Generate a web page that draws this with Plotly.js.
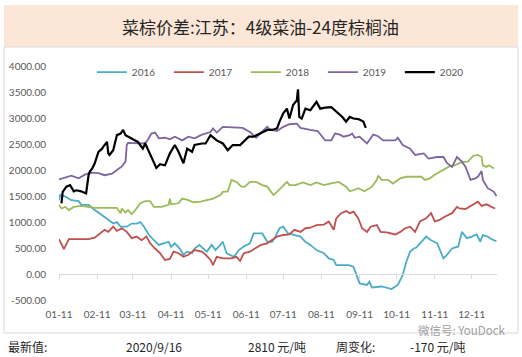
<!DOCTYPE html>
<html>
<head>
<meta charset="utf-8">
<script src="https://cdn.plot.ly/plotly-3.0.1.min.js"></script>
<style>html,body{margin:0;padding:0;background:#fff;}#chart{width:522px;height:357px;}</style>
</head>
<body>
<div id="chart"></div>
<script>
// ---- data (x = day of year, all years placed on a 2020 calendar) ----
const seriesNames = ['2016', '2017', '2018', '2019', '2020'];
const seriesColors = ['#4bacc6', '#c0504d', '#9bbb59', '#8064a2', '#000000'];

const day2016 = [11,12,16,21,27,29,35,40,46,51,55,58,61,66,70,74,77,80,84,88,92,96,100,102,105,109,112,115,119,121,125,128,131,135,138,142,144,147,153,157,161,166,169,176,180,184,186,190,193,197,203,207,211,215,220,226,230,234,236,242,246,250,253,255,261,263,265,273,281,284,286,290,293,296,299,301,305,309,313,318,323,326,330,335,338,342,346,350,353,355,359,362,366];
const val2016 = [1420,1520,1490,1420,1400,1330,1330,1230,1130,1040,970,1000,910,910,970,970,1000,910,750,650,560,590,620,520,590,490,370,430,400,490,560,490,430,560,460,560,620,400,330,460,530,590,780,780,620,620,690,880,910,780,750,720,620,560,460,400,300,270,170,170,170,140,-50,-180,-210,-150,-260,-240,-290,-240,-210,-20,240,430,490,510,620,720,650,590,300,370,490,530,810,690,720,760,620,750,720,670,630];

const day2017 = [11,13,15,19,24,35,40,44,48,51,55,58,62,66,70,74,78,82,85,89,93,97,101,104,108,112,116,121,127,130,134,136,139,144,151,155,158,161,166,170,175,180,184,188,193,198,202,207,211,215,220,226,230,234,236,240,244,247,250,254,257,261,264,269,272,277,284,288,292,296,300,304,309,313,316,320,324,330,334,336,341,345,351,354,358,362,365];
const val2017 = [670,560,480,670,670,670,700,780,850,810,910,830,880,810,690,720,650,720,590,490,400,270,290,430,400,330,370,460,430,370,270,170,330,300,300,330,250,400,430,490,560,590,650,720,750,760,850,810,880,890,940,950,1010,850,1070,1170,1210,1170,1200,1070,880,810,910,940,810,800,760,810,880,910,810,1010,1070,1170,1010,1040,1100,1170,1290,1260,1250,1310,1390,1310,1340,1290,1260];

const day2018 = [11,13,16,19,23,29,40,58,61,62,65,67,70,73,77,81,85,88,94,100,101,102,108,111,116,120,126,131,136,142,144,148,151,155,159,162,166,171,176,180,182,185,188,192,196,198,203,209,215,220,226,231,238,244,247,251,254,259,265,269,270,273,278,282,288,293,305,308,312,316,322,327,332,338,343,347,351,354,355,358,360,364];
const val2018 = [1330,1260,1290,1230,1290,1310,1270,1270,1170,1260,1180,1230,1150,1230,1360,1400,1400,1290,1290,1330,1450,1340,1360,1450,1420,1380,1390,1420,1450,1520,1580,1590,1810,1770,1680,1680,1770,1770,1710,1680,1610,1520,1580,1680,1770,1710,1710,1760,1710,1760,1710,1740,1770,1680,1590,1620,1650,1590,1680,1810,1890,1810,1810,1740,1840,1870,1870,1810,1840,1910,2000,2060,2090,2150,2160,2270,2290,2250,2090,2060,2090,2030];

const day2019 = [11,16,21,27,32,37,43,48,54,58,62,65,66,67,75,79,82,86,89,92,97,101,105,111,116,121,127,134,136,139,144,160,166,171,175,180,182,188,193,198,204,207,215,221,227,232,235,239,242,247,249,251,255,261,266,270,274,284,286,290,296,300,307,311,318,323,326,330,334,338,341,345,349,351,354,355,359,364,366];
const val2019 = [1820,1850,1890,1840,1910,1950,1940,1900,1930,2000,2070,2160,2480,2520,2520,2510,2540,2700,2720,2610,2620,2590,2640,2570,2640,2610,2680,2730,2800,2720,2830,2810,2730,2620,2720,2830,2780,2750,2830,2880,2890,2810,2770,2750,2570,2570,2700,2680,2640,2670,2700,2620,2640,2510,2680,2650,2570,2570,2620,2480,2410,2290,2320,2220,2250,2250,2130,2060,2250,2160,2060,1810,1840,1870,1980,1810,1650,1580,1500];

const day2020 = [13,14,17,20,23,25,29,33,35,36,38,40,43,46,47,50,51,52,55,58,61,63,65,67,71,75,79,81,84,88,90,93,97,101,105,108,112,115,119,121,127,130,134,139,144,148,152,158,165,169,174,180,184,188,190,193,196,198,201,204,205,206,208,211,215,220,223,227,232,236,241,244,247,250,254,258,260];
const val2020 = [1360,1580,1680,1710,1590,1610,1590,1550,1900,1970,2030,2130,2350,2410,2450,2540,2320,2290,2380,2670,2700,2770,2670,2640,2590,2540,2410,2510,2350,2130,2040,2110,2090,2320,2480,2350,2130,2410,2350,2480,2510,2510,2670,2570,2510,2380,2480,2480,2640,2640,2700,2770,2770,2800,2930,3090,3180,2990,3250,3340,3550,3020,2990,3180,3150,3310,3180,3200,3210,3120,3020,2930,3020,2990,2980,2930,2810];

const xTickLabels = ['01-11','02-11','03-11','04-11','05-11','06-11','07-11','08-11','09-11','10-11','11-11','12-11'];
const yTickVals = [-500,0,500,1000,1500,2000,2500,3000,3500,4000];
const yTickText = ['-500.00','0.00','500.00','1000.00','1500.00','2000.00','2500.00','3000.00','3500.00','4000.00'];

const titleText = '菜棕价差:江苏：4级菜油-24度棕榈油';
const footer = [
  {text: '最新值:', x: -0.119},
  {text: '2020/9/16', x: 0.150},
  {text: '2810 元/吨', x: 0.429},
  {text: '周变化:', x: 0.630},
  {text: '-170 元/吨', x: 0.800}
];
const watermark = '微信号: YouDock';

// ---- build ----
function toDate(d) {
  return new Date(Date.UTC(2020, 0, d)).toISOString().slice(0, 10);
}
const days = [day2016, day2017, day2018, day2019, day2020];
const vals = [val2016, val2017, val2018, val2019, val2020];

const traces = seriesNames.map((name, i) => ({
  type: 'scatter', mode: 'lines', name: name,
  x: days[i].map(toDate), y: vals[i],
  xaxis: i === 4 ? 'x2' : 'x', yaxis: 'y',
  line: {color: seriesColors[i], width: i === 4 ? 2.2 : 1.8},
  hoverinfo: 'skip'
}));

const tickDates = xTickLabels.map(l => '2020-' + l);
const xRange = ['2020-01-11', '2020-12-31 12:00'];
const tickFont = {family: 'Lato, "Liberation Sans", sans-serif', size: 10, color: '#595959'};

const annotations = footer.map(f => ({
  text: f.text, x: f.x, y: -0.199, xref: 'paper', yref: 'paper',
  xanchor: 'left', yanchor: 'middle', showarrow: false, borderpad: 0,
  font: {family: '"Noto Sans CJK SC", sans-serif', size: 12, color: '#262626'}
}));
annotations.push({
  text: titleText, x: 0.461, y: 1.167, xref: 'paper', yref: 'paper',
  xanchor: 'center', yanchor: 'middle', showarrow: false,
  font: {family: '"Noto Sans CJK SC", sans-serif', size: 17, color: '#262626'}
});
annotations.push({
  text: watermark, x: 1.022, y: -0.128, xref: 'paper', yref: 'paper',
  xanchor: 'right', yanchor: 'middle', showarrow: false, borderpad: 0,
  font: {family: '"Noto Sans CJK SC", sans-serif', size: 11.5, color: '#a0a0a0'}
});

const layout = {
  width: 522, height: 357,
  margin: {l: 59, r: 25, t: 66, b: 57},
  paper_bgcolor: '#ffffff', plot_bgcolor: 'rgba(0,0,0,0)',
  showlegend: true,
  legend: {
    orientation: 'h', x: 0.075, y: 0.974, xanchor: 'left', yanchor: 'middle',
    entrywidth: 32, entrywidthmode: 'pixels',
    font: tickFont, bgcolor: 'rgba(0,0,0,0)', traceorder: 'normal'
  },
  xaxis: {
    type: 'date', range: xRange, tickvals: tickDates, ticktext: xTickLabels,
    showgrid: false, zeroline: false, showline: false,
    ticks: 'outside', ticklen: 5, tickcolor: 'rgba(0,0,0,0)',
    tickfont: tickFont, fixedrange: true
  },
  xaxis2: {
    type: 'date', range: xRange, tickvals: tickDates, overlaying: 'x',
    anchor: 'free', position: 1 / 9, showticklabels: false,
    showgrid: false, zeroline: false, showline: true, linecolor: '#d9d9d9', linewidth: 1,
    ticks: 'outside', ticklen: 4, tickcolor: '#d9d9d9', tickwidth: 1, fixedrange: true
  },
  yaxis: {
    range: [-500, 4000], tickvals: yTickVals, ticktext: yTickText,
    showgrid: false, zeroline: false, showline: false,
    ticks: 'outside', ticklen: 10, tickcolor: 'rgba(0,0,0,0)',
    tickfont: tickFont, fixedrange: true
  },
  shapes: [
    {type: 'rect', xref: 'paper', yref: 'paper', x0: -0.1256, x1: 1.048, y0: 1.0812, y1: 1.2607,
     fillcolor: '#fbe6d7', line: {width: 0}, layer: 'below'},
    {type: 'rect', xref: 'paper', yref: 'paper', x0: -0.1256, x1: 1.048, y0: -0.141, y1: 1.0812,
     fillcolor: 'rgba(0,0,0,0)', line: {color: '#d9d9d9', width: 1}, layer: 'below'}
  ],
  annotations: annotations
};

Plotly.newPlot('chart', traces, layout, {staticPlot: true, displayModeBar: false});
</script>
</body>
</html>
